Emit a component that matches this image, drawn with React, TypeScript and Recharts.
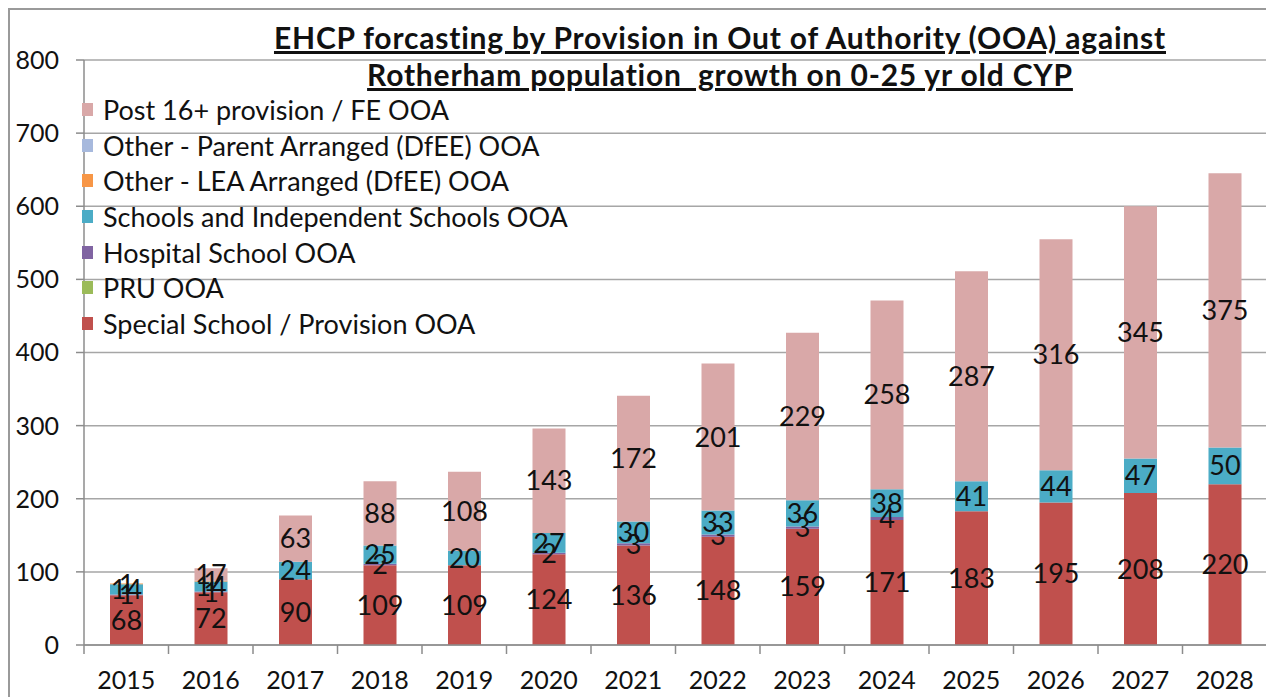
import React from 'react';
import { BarChart, Bar, XAxis, YAxis, CartesianGrid, LabelList } from 'recharts';

const years = ['2015', '2016', '2017', '2018', '2019', '2020', '2021', '2022', '2023', '2024', '2025', '2026', '2027', '2028'];
const specialSchool = [68, 72, 90, 109, 109, 124, 136, 148, 159, 171, 183, 195, 208, 220];
const pru = [0, 0, 0, 0, 0, 0, 0, 0, 0, 0, 0, 0, 0, 0];
const hospital = [1, 1, 0, 2, 0, 2, 3, 3, 3, 4, 0, 0, 0, 0];
const schoolsIndependent = [14, 14, 24, 25, 20, 27, 30, 33, 36, 38, 41, 44, 47, 50];
const leaArranged = [1, 1, 0, 0, 0, 0, 0, 0, 0, 0, 0, 0, 0, 0];
const parentArranged = [0, 0, 0, 0, 0, 0, 0, 0, 0, 0, 0, 0, 0, 0];
const post16 = [0, 17, 63, 88, 108, 143, 172, 201, 229, 258, 287, 316, 345, 375];
const yTicks = [0, 100, 200, 300, 400, 500, 600, 700, 800];

const series = [
  { key: 'special', name: 'Special School / Provision OOA', color: '#C0504D', values: specialSchool },
  { key: 'pru', name: 'PRU OOA', color: '#9BBB59', values: pru },
  { key: 'hospital', name: 'Hospital School OOA', color: '#8064A2', values: hospital },
  { key: 'schools', name: 'Schools and Independent Schools OOA', color: '#4BACC6', values: schoolsIndependent },
  { key: 'lea', name: 'Other - LEA Arranged (DfEE) OOA', color: '#F79646', values: leaArranged },
  { key: 'parent', name: 'Other - Parent Arranged (DfEE) OOA', color: '#A7B9DD', values: parentArranged },
  { key: 'post16', name: 'Post 16+ provision / FE OOA', color: '#D9A8A8', values: post16 },
];

const data = years.map((year, i) => {
  const row: Record<string, string | number> = { year };
  series.forEach((s) => { row[s.key] = s.values[i]; });
  return row;
});

const FONT = 'Lato, "Noto Sans", sans-serif';
const CHART_W = 1260;
const CHART_H = 690;
const PLOT_LEFT = 74;
const PLOT_RIGHT = 3;
const BAND = (CHART_W - PLOT_LEFT - PLOT_RIGHT) / years.length;

const XTick = (props: any) => {
  const { x, y, payload } = props;
  return (
    <g>
      <line x1={x - BAND / 2} y1={y} x2={x - BAND / 2} y2={y + 9} stroke="#8c8c8c" strokeWidth={1.5} />
      <text x={x} y={y + 38} textAnchor="middle" dominantBaseline="middle" fill="#111" fontSize={25} fontFamily={FONT}>
        {payload.value}
      </text>
    </g>
  );
};

const hideZero = (v: any) => (v ? v : '');

export default function App() {
  return (
    <div style={{ position: 'relative', width: CHART_W, height: 700, border: '2px solid #9a9a9a', background: '#fff' }}>
      <div
        style={{
          position: 'absolute', left: 110, width: 1200, top: 9, textAlign: 'center',
          fontFamily: FONT, fontWeight: 700, fontSize: 30, lineHeight: '37px', letterSpacing: 0.8,
          textDecoration: 'underline', whiteSpace: 'pre', color: '#111', zIndex: 2,
        }}
      >
        {'EHCP forcasting by Provision in Out of Authority (OOA) against'}
        <br />
        {'Rotherham population  growth on 0-25 yr old CYP'}
      </div>
      <div style={{ position: 'absolute', left: 72, top: 82, fontFamily: FONT, fontSize: 27, color: '#111', zIndex: 2 }}>
        {[...series].reverse().map((s) => (
          <div key={s.key} style={{ display: 'flex', alignItems: 'center', height: 35.6, whiteSpace: 'nowrap' }}>
            <span style={{ width: 11, height: 13, background: s.color, marginRight: 10, display: 'inline-block' }} />
            {s.name}
          </div>
        ))}
      </div>
      <BarChart
        width={CHART_W}
        height={CHART_H}
        data={data}
        margin={{ top: 50, right: PLOT_RIGHT, bottom: 0, left: 0 }}
        barSize={33}
      >
        <CartesianGrid vertical={false} stroke="#a6a6a6" strokeWidth={1.5} />
        <XAxis
          dataKey="year"
          height={55}
          stroke="#8c8c8c"
          strokeWidth={1.5}
          tickLine={false}
          tickSize={0}
          tickMargin={0}
          tick={<XTick />}
          interval={0}
        />
        <YAxis
          width={PLOT_LEFT}
          domain={[0, 800]}
          ticks={yTicks}
          stroke="#8c8c8c"
          strokeWidth={1.5}
          tickSize={8}
          tickMargin={17}
          tick={{ fill: '#111', fontSize: 25, fontFamily: FONT }}
        />
        {series.map((s) => (
          <Bar key={s.key} dataKey={s.key} name={s.name} stackId="a" fill={s.color} isAnimationActive={false}>
            <LabelList dataKey={s.key} position="center" formatter={hideZero} fill="#111" fontSize={27} fontFamily={FONT} />
          </Bar>
        ))}
      </BarChart>
    </div>
  );
}
